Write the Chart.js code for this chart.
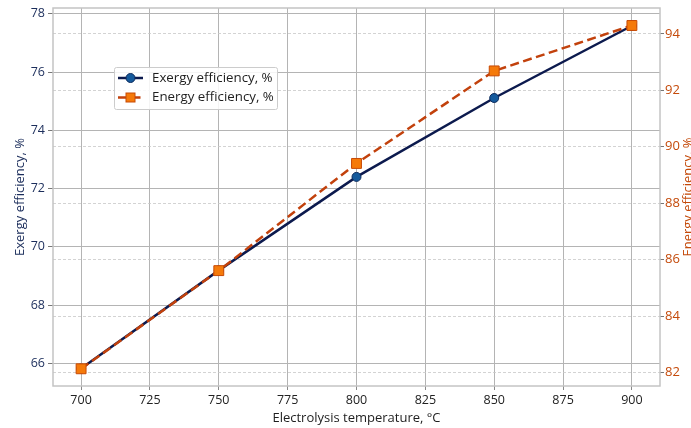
<!DOCTYPE html>
<html>
<head>
<meta charset="utf-8">
<script src="https://cdn.jsdelivr.net/npm/chart.js@4"></script>
<style>
html,body{margin:0;padding:0;background:#fff;}
#wrap{width:691px;height:428px;position:relative;}
</style>
</head>
<body>
<div id="wrap"><canvas id="c" width="691" height="428"></canvas></div>
<script>
const temperatures = [700, 750, 800, 850, 900];
const exergyEfficiency = [65.82, 69.19, 72.40, 75.11, 77.59];
const energyEfficiency = [82.13, 85.61, 89.41, 92.69, 94.30];
const xTicks = [700, 725, 750, 775, 800, 825, 850, 875, 900];
const leftTicks = [66, 68, 70, 72, 74, 76, 78];
const rightTicks = [82, 84, 86, 88, 90, 92, 94];
const xTitle = 'Electrolysis temperature, °C';
const leftTitle = 'Exergy efficiency, %';
const rightTitle = 'Energy efficiency, %';

const FONT = '"Open Sans", "DejaVu Sans", sans-serif';
const NAVY = '#0c1a4e';
const ORANGE_LINE = '#c2410c';
const LEFT_COLOR = '#1b2d5b';
const RIGHT_COLOR = '#c44a0a';

const frameAndLabels = {
  id: 'frameAndLabels',
  beforeDatasetsDraw(chart) {
    const {ctx, chartArea: a} = chart;
    ctx.save();
    ctx.strokeStyle = '#c4c4c4';
    ctx.lineWidth = 1.5;
    ctx.strokeRect(a.left, a.top, a.right - a.left, a.bottom - a.top);
    ctx.restore();
  },
  afterDraw(chart) {
    const {ctx, chartArea: a} = chart;
    const midY = (a.top + a.bottom) / 2;
    ctx.save();
    ctx.font = '13px ' + FONT;
    ctx.textAlign = 'center';
    ctx.textBaseline = 'middle';
    ctx.save();
    ctx.translate(20, midY);
    ctx.rotate(-Math.PI / 2);
    ctx.fillStyle = LEFT_COLOR;
    ctx.fillText(leftTitle, 0, 0);
    ctx.restore();
    ctx.save();
    ctx.translate(688.5, midY);
    ctx.rotate(-Math.PI / 2);
    ctx.fillStyle = RIGHT_COLOR;
    ctx.fillText(rightTitle, 0, 0);
    ctx.restore();
    ctx.restore();

    const ds = chart.data.datasets;
    const bx = 114, by = 67, bw = 163, bh = 42;
    ctx.save();
    ctx.fillStyle = 'rgba(255,255,255,0.85)';
    ctx.strokeStyle = '#cccccc';
    ctx.lineWidth = 1;
    ctx.beginPath();
    ctx.roundRect ? ctx.roundRect(bx + 0.5, by + 0.5, bw, bh, 2) : ctx.rect(bx + 0.5, by + 0.5, bw, bh);
    ctx.fill();
    ctx.stroke();
    const rows = [78, 97.5];
    ds.forEach((d, i) => {
      const y = rows[i];
      ctx.save();
      ctx.strokeStyle = d.borderColor;
      ctx.lineWidth = d.borderWidth;
      ctx.setLineDash(d.borderDash || []);
      ctx.beginPath();
      ctx.moveTo(118, y);
      ctx.lineTo(143, y);
      ctx.stroke();
      ctx.setLineDash([]);
      ctx.fillStyle = d.pointBackgroundColor;
      ctx.strokeStyle = d.pointBorderColor;
      ctx.lineWidth = d.pointBorderWidth;
      if (d.pointStyle === 'rect') {
        const s = 9;
        ctx.fillRect(130.5 - s / 2, y - s / 2, s, s);
        ctx.strokeRect(130.5 - s / 2, y - s / 2, s, s);
      } else {
        ctx.beginPath();
        ctx.arc(130.5, y, 4.5, 0, Math.PI * 2);
        ctx.fill();
        ctx.stroke();
      }
      ctx.restore();
      ctx.font = '13.3px ' + FONT;
      ctx.fillStyle = '#1e1e1e';
      ctx.textAlign = 'left';
      ctx.textBaseline = 'middle';
      ctx.fillText(d.label, 152, y);
    });
    ctx.restore();
  }
};

const noPad = s => { s.paddingTop = 0; s.paddingBottom = 0; };

new Chart(document.getElementById('c'), {
  type: 'line',
  data: {
    datasets: [
      {
        label: 'Exergy efficiency, %',
        data: temperatures.map((t, i) => ({x: t, y: exergyEfficiency[i]})),
        yAxisID: 'yL',
        borderColor: NAVY,
        borderWidth: 2.5,
        pointStyle: 'circle',
        pointRadius: 4.5,
        pointBackgroundColor: '#155a9c',
        pointBorderColor: '#0c2a5c',
        pointBorderWidth: 1,
        tension: 0,
        order: 2
      },
      {
        label: 'Energy efficiency, %',
        data: temperatures.map((t, i) => ({x: t, y: energyEfficiency[i]})),
        yAxisID: 'yR',
        borderColor: ORANGE_LINE,
        borderWidth: 2.5,
        borderDash: [9, 4.5],
        pointStyle: 'rect',
        pointRadius: 7,
        pointBackgroundColor: '#f57a0a',
        pointBorderColor: '#c84a05',
        pointBorderWidth: 1,
        tension: 0,
        order: 1
      }
    ]
  },
  options: {
    responsive: false,
    animation: false,
    layout: {padding: {top: 7, left: 0, right: 0, bottom: 0}},
    plugins: {legend: {display: false}, tooltip: {enabled: false}},
    scales: {
      x: {
        type: 'linear',
        min: 689.8,
        max: 910.2,
        afterBuildTicks(s) { s.ticks = xTicks.map(v => ({value: v})); },
        afterFit(s) { s.height = 42; s.paddingLeft = 0; s.paddingRight = 0; },
        ticks: {color: '#222', font: {family: FONT, size: 12.5}, padding: 3, callback: v => String(v)},
        grid: {color: '#b4b4b4', lineWidth: 1, drawTicks: true, tickLength: 4, tickColor: '#888'},
        border: {display: false},
        title: {display: true, text: xTitle, color: '#1e1e1e', font: {family: FONT, size: 13}, padding: {top: 0, bottom: 2}}
      },
      yL: {
        type: 'linear',
        position: 'left',
        min: 65.22,
        max: 78.2,
        afterBuildTicks(s) { s.ticks = leftTicks.map(v => ({value: v})); },
        afterFit(s) { s.width = 53; noPad(s); },
        ticks: {color: LEFT_COLOR, font: {family: FONT, size: 12.5}, padding: 3, callback: v => String(v)},
        grid: {color: '#b4b4b4', lineWidth: 1, drawTicks: true, tickLength: 5, tickColor: '#777'},
        border: {display: false}
      },
      yR: {
        type: 'linear',
        position: 'right',
        min: 81.52,
        max: 94.92,
        afterBuildTicks(s) { s.ticks = rightTicks.map(v => ({value: v})); },
        afterFit(s) { s.width = 31; noPad(s); },
        ticks: {color: RIGHT_COLOR, font: {family: FONT, size: 13}, padding: 1, callback: v => String(v)},
        grid: {color: '#c8c8c8', lineWidth: 0.8, drawTicks: true, tickLength: 4, tickColor: '#777', tickWidth: 1, tickBorderDash: []},
        border: {display: false, dash: [3, 2]}
      }
    }
  },
  plugins: [frameAndLabels]
});
</script>
</body>
</html>
